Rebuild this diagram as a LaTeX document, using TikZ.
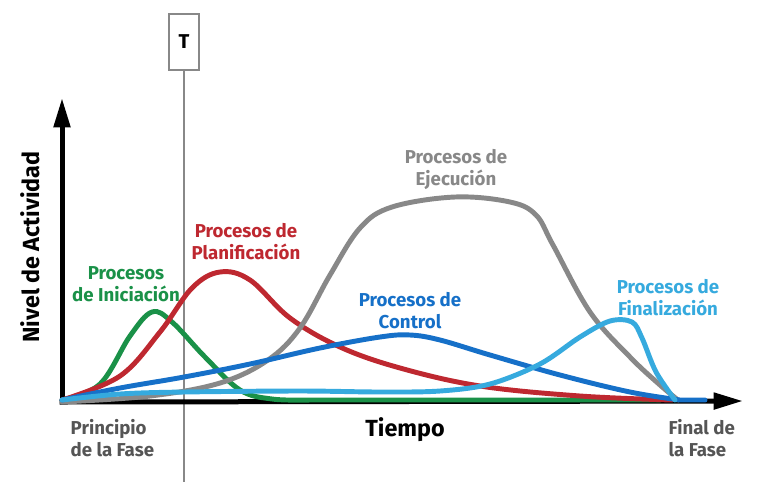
\documentclass[tikz,border=0pt]{standalone}
\usepackage{fontspec}
\setmainfont{Fira Sans}
\usetikzlibrary{arrows.meta,positioning}

\definecolor{inigreen}{RGB}{26,145,72}
\definecolor{planred}{RGB}{190,40,48}
\definecolor{ejegray}{RGB}{136,136,136}
\definecolor{ctrlblue}{RGB}{22,112,200}
\definecolor{finblue}{RGB}{54,170,222}
\definecolor{faseGray}{RGB}{85,85,85}

\tikzset{
  axisline/.style={line width=3.75pt,-{Triangle[length=22pt,width=12pt]}},
  curve/.style={line width=3.7pt,line join=round,line cap=round},
  proclabel/.style={font=\fontsize{14}{16.5}\selectfont\bfseries,align=center},
  faselabel/.style={font=\fontsize{14}{16.5}\selectfont\bfseries,align=left,text=faseGray,anchor=north west}
}

\begin{document}
\begin{tikzpicture}[x=0.75pt,y=-0.75pt]
\useasboundingbox (0,0) rectangle (759,490);

% Corte T
\node[draw=ejegray,line width=1.5pt,minimum width=23pt,minimum height=42pt,inner sep=0pt,
      font=\fontsize{15}{17}\selectfont\bfseries] (corte) at (184,42) {T};
\coordinate (corteEnd) at (184,482);
\draw[ejegray,line width=1.5pt] (corte.south) -- (corteEnd);

% Ejes
\coordinate (origen) at (62,402);
\coordinate (ytip) at (62,98);
\coordinate (xtip) at (743,401);
\draw[axisline] (origen) -- (ytip);
\draw[axisline] ([xshift=-1.8pt]origen) -- (xtip);

% Curvas
\draw[curve,inigreen] plot[smooth,tension=0.6] coordinates {(62,400) (100,384) (130,336) (152,312) (172,322) (205,357) (240,390) (272,399) (310,400)} -- (660,400);
\draw[curve,planred] plot[smooth,tension=0.6] coordinates {(62,400) (120,376) (160,332) (192,288) (220,272) (250,280) (290,318) (340,347) (400,368) (480,386) (580,396) (672,400)};
\draw[curve,ejegray] plot[smooth,tension=0.6] coordinates {(62,402) (150,396) (220,383) (268,360) (300,328) (330,275) (360,228) (392,207) (455,197) (510,202) (536,215) (553,245) (590,312) (630,357) (660,385) (678,400)};
\draw[curve,ctrlblue] plot[smooth,tension=0.6] coordinates {(62,400) (120,388) (184,377) (250,364) (320,348) (380,337) (410,335) (440,340) (490,355) (560,375) (630,392) (680,400)} -- (705,400);
\draw[curve,finblue] plot[smooth,tension=0.55] coordinates {(62,400) (120,394) (184,392) (300,391) (380,392) (440,391) (490,384) (540,364) (580,337) (610,321) (632,322) (642,338) (656,372) (675,400)};

% Etiquetas
\node[proclabel,text=inigreen] (iniciacion) at (126,284) {Procesos\\de Iniciación};
\node[proclabel,text=planred] (planificacion) at (246,242) {Procesos de\\Planificación};
\node[proclabel,text=ejegray] (ejecucion) at (456,169) {Procesos de\\Ejecución};
\node[proclabel,text=ctrlblue] (control) at (410,311) {Procesos de\\Control};
\node[proclabel,text=finblue] (finalizacion) at (668,298) {Procesos de\\Finalización};

\node[faselabel] (principio) at (66,415) {Principio\\de la Fase};
\node[faselabel] (final) at (664,415) {Final de\\la Fase};
\node[font=\fontsize{17.5}{20}\selectfont\bfseries] (tiempo) at (405,430) {Tiempo};
\node[font=\fontsize{17.5}{20}\selectfont\bfseries,rotate=90] (nivel) at (30,247) {Nivel de Actividad};
\end{tikzpicture}
\end{document}
